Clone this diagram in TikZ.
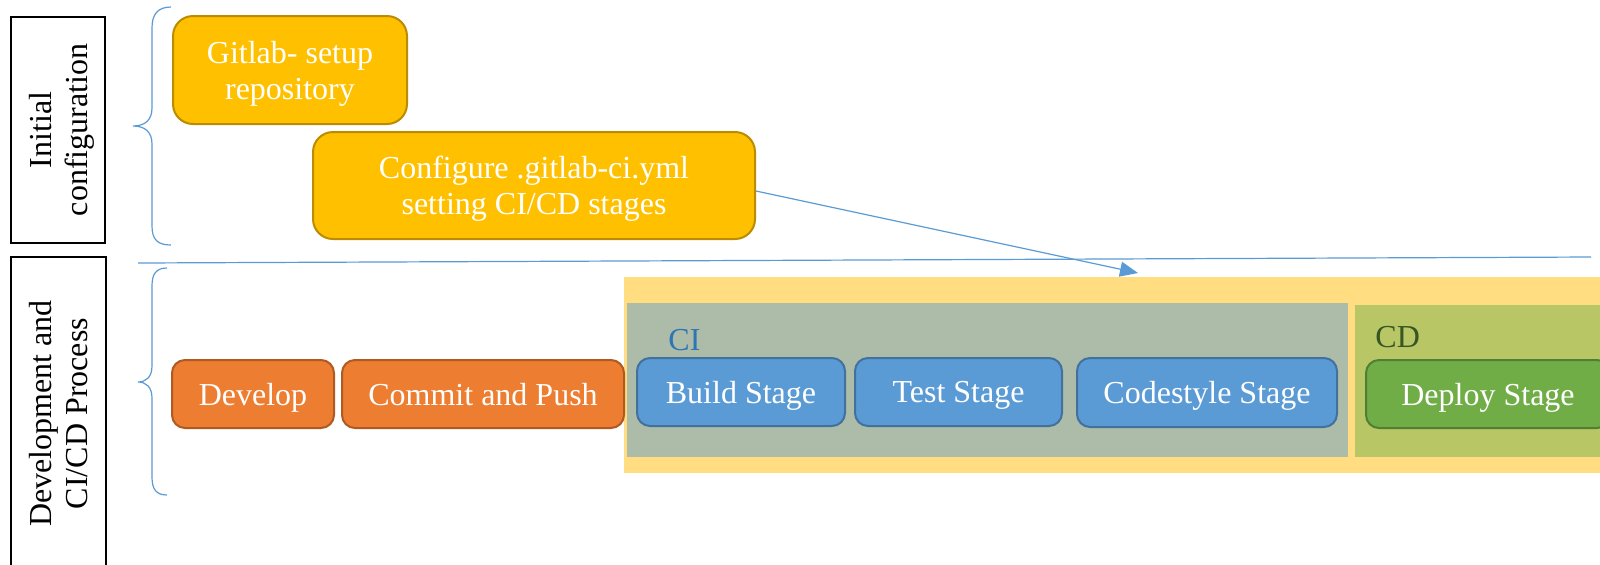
\documentclass[tikz,border=0pt]{standalone}
\usepackage{fontspec}
\setmainfont{Liberation Serif}
\usetikzlibrary{arrows.meta}
\definecolor{gold}{HTML}{FFC000}
\definecolor{golddk}{HTML}{BC8C00}
\definecolor{orng}{HTML}{ED7D31}
\definecolor{orngdk}{HTML}{AE5A21}
\definecolor{bluef}{HTML}{5B9BD5}
\definecolor{bluedk}{HTML}{41719C}
\definecolor{greenf}{HTML}{70AD47}
\definecolor{greendk}{HTML}{507E32}
\definecolor{ybg}{HTML}{FFDD80}
\definecolor{cibg}{HTML}{ADBCA8}
\definecolor{cdbg}{HTML}{B8C666}
\definecolor{citxt}{HTML}{2E75B6}
\definecolor{cdtxt}{HTML}{375623}
\definecolor{lineblue}{HTML}{5B9BD5}
\tikzset{
  txt/.style={font=\fontsize{16}{18}\selectfont},
  sidelabel/.style={txt, draw=black, line width=1pt, rotate=90, align=center, inner sep=0pt, text=black, text depth=0pt},
  box/.style={txt, line width=1pt, inner sep=0pt, align=center, text=white, text depth=0pt},
  goldbox/.style={box, fill=gold, draw=golddk, rounded corners=10pt},
  orangebox/.style={box, fill=orng, draw=orngdk, rounded corners=6.5pt, minimum height=34pt},
  stagebox/.style={box, fill=bluef, draw=bluedk, rounded corners=6.5pt, minimum height=34pt},
  deploybox/.style={box, fill=greenf, draw=greendk, rounded corners=6.5pt, minimum height=34pt},
  bluethin/.style={draw=lineblue, line width=0.6pt},
}
\begin{document}
\begin{tikzpicture}[x=0.5pt,y=-0.5pt]
\clip (0,0) rectangle (1600,564);
\fill[white] (0,0) rectangle (1600,564);

% side labels
\node[sidelabel, minimum width=113pt, minimum height=47pt] (lab1) at (58,130) {Initial\\configuration};
\node[sidelabel, minimum width=156.5pt, minimum height=47.5pt] (lab2) at (58.5,413.5) {Development and\\CI/CD Process};

% braces
\draw[bluethin] (171,7) .. controls (158,7) and (152,14) .. (152,28) -- (152,108)
  .. controls (152,120) and (145,126) .. (133,126)
  .. controls (145,126) and (152,132) .. (152,144) -- (152,226)
  .. controls (152,240) and (158,245) .. (171,245);
\draw[bluethin] (167,268) .. controls (156,268) and (152,274) .. (152,286) -- (152,366)
  .. controls (152,377) and (146,382) .. (138,382)
  .. controls (146,382) and (152,387) .. (152,398) -- (152,477)
  .. controls (152,489) and (156,495) .. (167,495);

% separator
\coordinate (sepL) at (138,263);
\coordinate (sepR) at (1591,257);
\draw[bluethin] (sepL) -- (sepR);

% initial configuration boxes
\node[goldbox, minimum width=117pt, minimum height=54pt] (gitlab) at (290,70) {Gitlab- setup\\repository};
\node[goldbox, minimum width=221pt, minimum height=53.5pt] (cfg) at (534,185.5) {Configure .gitlab-ci.yml\\setting CI/CD stages};

% pipeline backgrounds
\fill[ybg] (624,277) rectangle (1620,473);
\fill[cibg] (627,303) rectangle (1348,457);
\fill[cdbg] (1355,305) rectangle (1620,457);
\node[txt, text=citxt, anchor=west, inner sep=0pt] (cilab) at (668,340) {CI};
\node[txt, text=cdtxt, anchor=west, inner sep=0pt] (cdlab) at (1375,337) {CD};

% development boxes
\node[orangebox, minimum width=81pt] (develop) at (253,394) {Develop};
\node[orangebox, minimum width=141pt] (commit) at (483,394) {Commit and Push};

% stages
\node[stagebox, minimum width=104pt] (build) at (741,392) {Build Stage};
\node[stagebox, minimum width=103.5pt] (test) at (958.5,392) {Test Stage};
\node[stagebox, minimum width=130pt, minimum height=34.5pt] (codestyle) at (1207,392.5) {Codestyle Stage};
\node[deploybox, minimum width=122pt] (deploy) at (1488,394) {Deploy Stage};

% arrow
\coordinate (arrtip) at (1138,273);
\draw[bluethin, -{Triangle[length=9pt,width=7.5pt]}] ([yshift=-2.75pt]cfg.east) -- (arrtip);
\end{tikzpicture}
\end{document}
